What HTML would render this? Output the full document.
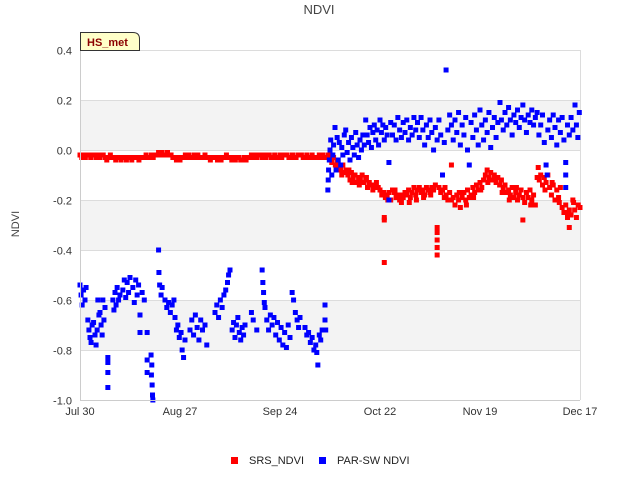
<!DOCTYPE html>
<html><head><meta charset="utf-8"><style>
body{margin:0;background:#fff}
svg{display:block;font-family:"Liberation Sans",sans-serif}
</style></head><body>
<svg id="chart" width="640" height="480" viewBox="0 0 640 480">
<rect x="0" y="0" width="640" height="480" fill="#fff"/>
<g id="bands"></g>
<g id="grid"></g>
<g id="series"></g>
<g id="axes"></g>
<text x="319" y="14" text-anchor="middle" font-size="13" fill="#444">NDVI</text>
<text x="19" y="224" text-anchor="middle" font-size="11" fill="#444" transform="rotate(-90 19 224)">NDVI</text>
<g>
<path d="M80.5,50.5 V32.5 H133 Q139.5,32.5 139.5,39 V50.5 Z" fill="#ffffc8" stroke="#333" stroke-width="1"/>
<text x="87" y="46" font-size="11" font-weight="bold" fill="#8b0000">HS_met</text>
</g>
<g>
<g><rect x="231" y="457" width="7" height="7" fill="#f00"/><text x="249" y="464" font-size="11" fill="#222">SRS_NDVI</text></g>
<g><rect x="319" y="457" width="7" height="7" fill="#00f"/><text x="337" y="464" font-size="11" fill="#222">PAR-SW NDVI</text></g>
</g>
</svg>
<script>
const xTickLabels=["Jul 30","Aug 27","Sep 24","Oct 22","Nov 19","Dec 17"];
const xTickDays=[0,28,56,84,112,140];
const yTicks=[0.4,0.2,0.0,-0.2,-0.4,-0.6,-0.8,-1.0];
const yTickLabels=["0.4","0.2","0.0","-0.2","-0.4","-0.6","-0.8","-1.0"];
const srsData=[0,-.02,0.5,-.03,1,-.02,1.5,-.03,2,-.02,2.5,-.02,3,-.03,3.5,-.02,4,-.02,4.5,-.03,5,-.02,5.5,-.03,6,-.02,6.5,-.02,7,-.03,7.5,-.04,8,-.03,8.5,-.02,9,-.03,9.5,-.03,10,-.04,10.5,-.03,11,-.03,11.5,-.04,12,-.03,12.5,-.03,13,-.04,13.5,-.03,14,-.03,14.5,-.04,15,-.03,15.5,-.03,16,-.03,16.5,-.04,17,-.03,17.5,-.03,18,-.03,18.5,-.02,19,-.03,19.5,-.03,20,-.02,20.5,-.03,21,-.02,21.5,-.02,22,-.01,22.5,-.02,23,-.01,23.5,-.02,24,-.02,24.5,-.01,25,-.02,25.5,-.02,26,-.03,26.5,-.03,27,-.04,27.5,-.03,28,-.04,28.5,-.03,29,-.03,29.5,-.02,30,-.03,30.5,-.02,31,-.03,31.5,-.03,32,-.02,32.5,-.03,33,-.02,33.5,-.03,34,-.03,34.5,-.03,35,-.02,35.5,-.03,36,-.03,36.5,-.04,37,-.03,37.5,-.03,38,-.03,38.5,-.04,39,-.03,39.5,-.04,40,-.03,40.5,-.03,41,-.02,41.5,-.03,42,-.03,42.5,-.04,43,-.03,43.5,-.04,44,-.03,44.5,-.03,45,-.04,45.5,-.04,46,-.03,46.5,-.04,47,-.03,47.5,-.03,48,-.02,48.5,-.03,49,-.02,49.5,-.03,50,-.02,50.5,-.02,51,-.03,51.5,-.02,52,-.03,52.5,-.02,53,-.02,53.5,-.03,54,-.03,54.5,-.02,55,-.03,55.5,-.03,56,-.02,56.5,-.03,57,-.02,57.5,-.02,58,-.02,58.5,-.03,59,-.03,59.5,-.02,60,-.03,60.5,-.03,61,-.02,61.5,-.02,62,-.02,62.5,-.03,63,-.03,63.5,-.02,64,-.03,64.5,-.03,65,-.02,65.5,-.03,66,-.03,66.5,-.03,67,-.02,67.5,-.03,68,-.02,68.5,-.03,69,-.03,69.5,-.02,
70,-.04,70.5,-.05,71,-.03,71.5,-.06,72,-.05,72.5,-.07,73,-.08,73.3,-.1,73.6,-.06,74,-.09,74.5,-.08,75,-.1,75.3,-.08,75.6,-.12,76,-.09,76.5,-.11,77,-.1,77.5,-.13,78,-.11,78.5,-.12,79,-.1,79.5,-.13,80,-.12,80.5,-.15,81,-.13,81.5,-.14,82,-.16,82.5,-.14,83,-.13,83.5,-.15,84,-.16,84.5,-.18,85,-.17,85.2,-.27,85.2,-.28,85.2,-.45,85.5,-.19,86,-.18,86.5,-.17,87,-.2,87.5,-.16,88,-.17,88.5,-.19,89,-.18,89.5,-.2,90,-.21,90.5,-.19,91,-.17,91.5,-.18,92,-.16,92.5,-.19,93,-.17,93.5,-.15,94,-.18,94.5,-.16,95,-.15,95.5,-.17,96,-.16,96.5,-.18,97,-.15,97.5,-.16,98,-.17,98.5,-.15,99,-.16,99.5,-.14,100,-.31,100,-.33,100,-.36,100,-.39,100,-.42,100.5,-.15,101,-.17,101.5,-.16,102,-.19,102.5,-.18,103,-.2,103.5,-.17,104,-.06,104,-.2,104.5,-.19,105,-.22,105.5,-.18,106,-.2,106.5,-.23,107,-.19,107.5,-.17,108,-.2,108.5,-.16,109,-.19,109.5,-.18,110,-.15,110.5,-.17,111,-.14,111.5,-.16,112,-.13,112.5,-.15,113,-.12,113.5,-.1,114,-.08,114.5,-.11,115,-.09,115.5,-.12,116,-.1,116.5,-.13,117,-.11,117.5,-.14,118,-.12,118.5,-.15,119,-.14,119.5,-.17,120,-.16,120.5,-.18,121,-.15,121.5,-.19,122,-.17,122.5,-.2,123,-.18,123.5,-.16,124,-.28,124,-.19,124.5,-.21,125,-.17,125.5,-.19,126,-.16,126.5,-.2,127,-.18,127.5,-.22,128,-.11,128.3,-.07,128.6,-.12,129,-.1,129.5,-.14,130,-.11,130.5,-.13,131,-.1,131.5,-.15,132,-.18,132.5,-.14,133,-.2,133.5,-.16,134,-.19,134.5,-.15,135,-.23,135.5,-.25,136,-.22,136.5,-.27,137,-.31,137,-.24,137.5,-.26,138,-.2,138.5,-.24,139,-.27,139.5,-.22,140,-.23,
76.2,-.13,78.2,-.14,80.2,-.11,82.2,-.15,86.2,-.2,88.2,-.16,90.2,-.18,92.2,-.21,94.2,-.2,96.2,-.19,98.2,-.18,102.2,-.15,106.2,-.17,108.2,-.22,110.2,-.19,112.2,-.16,114.2,-.13,116.2,-.12,118.2,-.17,120.2,-.2,122.2,-.15,126.2,-.22,130.2,-.16,132.2,-.13,134.2,-.21,136.2,-.25,138.2,-.21];
const parswData=[0,-.54,0.3,-.58,0.6,-.62,1,-.56,1.4,-.6,1.7,-.55,2.2,-.68,2.5,-.72,2.8,-.75,3.1,-.77,3.4,-.7,3.8,-.69,4.2,-.74,4.5,-.78,4.8,-.72,5,-.6,5.3,-.66,5.6,-.65,5.9,-.7,6.2,-.74,6.4,-.6,6.7,-.68,7,-.63,7.8,-.83,7.8,-.85,7.8,-.89,7.8,-.95,9.2,-.6,9.5,-.64,9.8,-.57,10.1,-.62,10.4,-.55,10.8,-.6,11.2,-.58,12,-.56,12.4,-.52,12.8,-.59,13.2,-.53,13.6,-.57,14,-.51,14.8,-.55,15.2,-.61,15.6,-.52,16,-.58,16.4,-.54,16.8,-.66,16.8,-.73,17.4,-.57,18,-.6,18.8,-.73,18.8,-.84,18.8,-.89,19.9,-.82,20,-.9,20.1,-.86,20.2,-.94,20.3,-.98,20.4,-1.0,22,-.4,22.1,-.49,22.3,-.54,22.7,-.58,23,-.55,23.8,-.6,24.3,-.63,24.8,-.61,25.3,-.65,25.8,-.62,26.3,-.6,26.6,-.67,27,-.72,27.4,-.7,27.8,-.75,28.3,-.73,28.6,-.8,29,-.83,29.4,-.76,30.8,-.72,31.3,-.68,31.8,-.74,32.3,-.66,32.8,-.71,33.3,-.76,33.8,-.68,34.3,-.72,35,-.7,35.5,-.78,37.8,-.65,38.3,-.62,38.8,-.67,39.3,-.6,39.8,-.63,40.3,-.58,40.8,-.56,41.3,-.53,41.6,-.5,42,-.48,42.6,-.72,43,-.69,43.4,-.75,43.8,-.7,44.2,-.67,44.6,-.73,45,-.76,45.4,-.71,45.8,-.74,46.2,-.7,48,-.65,48.5,-.68,49.5,-.72,51,-.48,51.2,-.53,51.4,-.57,51.6,-.61,51.8,-.63,52.3,-.68,52.8,-.72,53.3,-.66,53.8,-.7,54.3,-.67,54.8,-.74,55.3,-.69,55.8,-.76,56.3,-.71,56.8,-.78,57.3,-.73,57.8,-.79,58.3,-.7,58.8,-.75,59.4,-.57,59.8,-.6,60.3,-.65,60.8,-.68,61.2,-.71,61.6,-.67,63,-.71,63.5,-.74,64,-.73,64.5,-.77,65,-.75,65.5,-.8,66,-.78,66.3,-.81,66.6,-.86,67,-.74,67.4,-.76,67.8,-.72,68.6,-.62,68.6,-.68,68.8,-.72,
69.4,-.16,69.5,-.12,69.6,-.08,69.8,-.04,70,0,70.2,.04,70.5,-.1,70.8,-.02,71,.02,71.4,.09,71.7,-.08,72,.05,72.3,-.04,72.6,.03,73,-.06,73.3,.01,73.6,-.02,74,.06,74.4,.08,74.8,-.01,75.2,.03,75.6,-.04,76,.05,76.4,.01,76.8,-.02,77.2,.07,77.6,.02,78,-.03,78.4,.04,78.8,0,79.2,.06,79.6,.02,80,.12,80.4,.06,80.8,.03,81.2,.09,81.6,.01,82,.07,82.4,.1,82.8,.04,83.2,.08,83.6,.02,84,.12,84.4,.07,84.8,.1,85.2,.04,85.6,.09,86,.06,86.5,-.05,86.5,-.2,87,.11,87.5,.06,88,.1,88.5,.04,89,.13,89.5,.08,90,.05,90.5,.11,91,.07,91.5,.12,92,.04,92.5,.09,93,.06,93.5,.13,94,.08,94.5,.11,95,.05,95.5,.13,96,.08,96.5,.02,97,.1,97.5,.05,98,.12,98.5,.07,99,0,99.5,.09,100,.04,100.5,.12,101,.06,101.5,-.1,102,.03,102.5,.32,103,.08,103.5,.14,104,.1,104.5,.04,105,.12,105.5,.07,106,.15,106.5,.02,107,.1,107.5,.06,108,.13,108.5,0,109,-.06,109.5,.11,110,.05,110.5,.14,111,.08,111.5,.02,112,.16,112.5,.1,113,.04,113.5,.12,114,.07,114.5,.15,115,.01,115.5,.09,116,.13,116.5,.05,117,.11,117.6,.19,118,.12,118.5,.08,119,.15,119.5,.1,120,.17,120.5,.12,121,.06,121.5,.14,122,.11,122.5,.16,123,.09,123.5,.13,124,.18,124.5,.12,125,.07,125.5,.14,126,.11,126.5,.16,127,.1,127.5,.13,128,.15,128.5,.06,129,.1,129.5,.14,130,.03,130.5,-.06,130.8,-.1,131,.08,131.5,.12,132,.05,132.5,.14,133,.09,133.5,.02,134,.12,134.5,.07,135,.13,135.5,.04,136,-.05,136,-.1,136,-.15,136.5,.1,137,.06,137.5,.13,138,.08,138.6,.18,139,.1,139.4,.05,139.8,.15];

const X0=80,X1=580,Y0=400,Y1=50,DMAX=140,VMIN=-1,VMAX=0.4;
function xScale(d){return X0+(d/DMAX)*(X1-X0);}
function yScale(v){return Y0-(v-VMIN)/(VMAX-VMIN)*(Y0-Y1);}
const NS="http://www.w3.org/2000/svg";
function mk(tag,attrs,parent){const e=document.createElementNS(NS,tag);for(const k in attrs)e.setAttribute(k,attrs[k]);parent.appendChild(e);return e;}
const bands=document.getElementById('bands'),grid=document.getElementById('grid'),series=document.getElementById('series'),axes=document.getElementById('axes');
mk('rect',{x:X0,y:Y1,width:X1-X0,height:Y0-Y1,fill:'#fff'},bands);
[[0.2,0],[-0.2,-0.4],[-0.6,-0.8]].forEach(function(b){
  const r=mk('rect',{x:X0,y:yScale(b[0]),width:X1-X0,height:yScale(b[1])-yScale(b[0]),fill:'#f3f3f3'},bands);
  
  
});
yTicks.forEach(function(v,i){
  const y=Math.round(yScale(v))+0.5;
  const l=mk('line',{x1:X0,x2:X1,y1:y,y2:y,stroke:'#dcdcdc','stroke-width':1},grid);
  
  
  const t=mk('text',{x:72,y:y+4,'text-anchor':'end','font-size':11,fill:'#333'},axes);
  t.textContent=yTickLabels[i];
  
  
});
const rl=mk('line',{x1:X1+0.5,x2:X1+0.5,y1:Y1,y2:Y0,stroke:'#dcdcdc'},grid);


const la=mk('line',{x1:X0+0.5,x2:X0+0.5,y1:Y1,y2:Y0,stroke:'#ccc'},axes);


const ba=mk('line',{x1:X0,x2:X1,y1:Y0+0.5,y2:Y0+0.5,stroke:'#ccc'},axes);


xTickDays.forEach(function(d,i){
  const x=xScale(d);
  const t=mk('text',{x:x,y:415,'text-anchor':'middle','font-size':11,fill:'#333'},axes);
  t.textContent=xTickLabels[i];
  
  
});
function drawSeries(data,color,name){
  const g=mk('g',{fill:color},series);
  
  
  for(let i=0;i<data.length;i+=2){
    const r=mk('rect',{x:xScale(data[i])-2.5,y:yScale(data[i+1])-2.5,width:5,height:5},g);
    
    
  }
}
drawSeries(srsData,'#f00','srs-ndvi-series');
drawSeries(parswData,'#00f','par-sw-ndvi-series');
</script>
</body></html>
